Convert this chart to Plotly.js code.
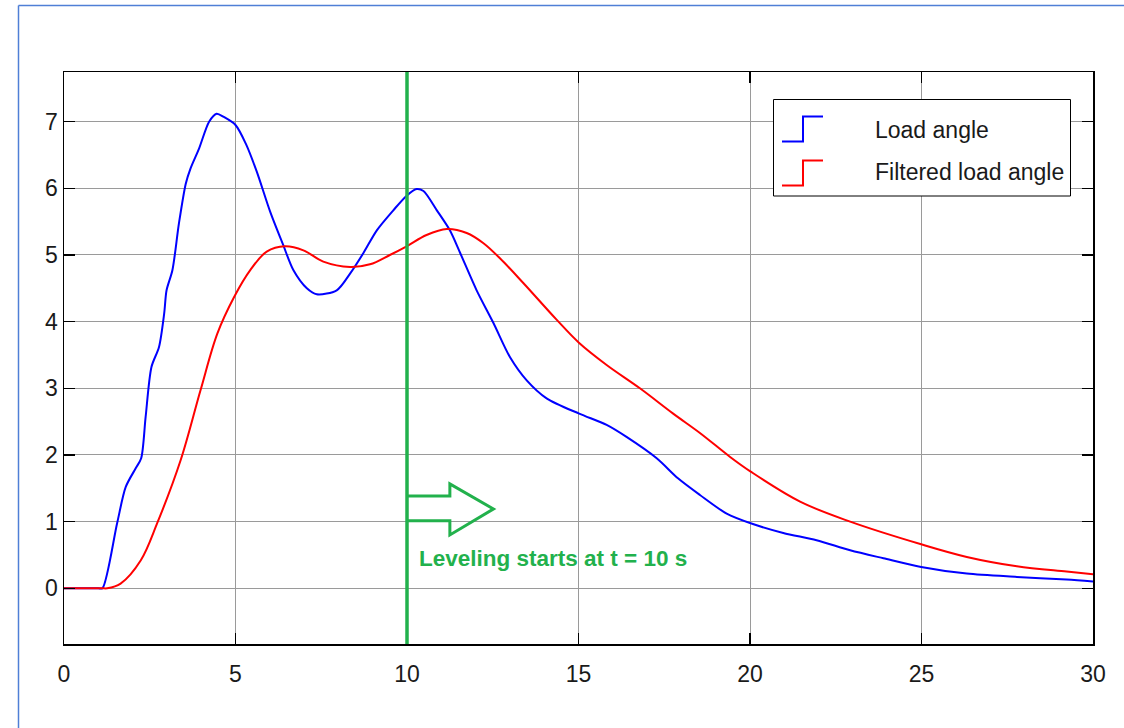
<!DOCTYPE html>
<html>
<head>
<meta charset="utf-8">
<script src="https://cdn.plot.ly/plotly-3.0.1.min.js"></script>
<style>
  html, body { margin: 0; padding: 0; background: #ffffff; }
  #chart { width: 1124px; height: 728px; }
</style>
</head>
<body>
<div id="chart"></div>
<script>
// ---- Data ----
const loadTime = [0, 1.0, 1.12, 1.55, 1.80, 2.09, 2.25, 2.38, 2.55, 2.77, 2.92, 2.99, 3.16, 3.35, 3.55, 3.69, 3.94, 4.23, 4.45, 4.66, 5.0, 5.30, 5.62, 6.01, 6.39, 6.69, 7.08, 7.37, 7.95, 8.34, 8.73, 9.12, 9.60, 9.99, 10.28, 10.48, 10.87, 11.25, 11.55, 12.03, 12.52, 13.0, 13.49, 14.07, 15.02, 15.82, 16.4, 17.28, 17.9, 18.54, 19.32, 20.02, 20.97, 21.94, 22.92, 23.89, 24.99, 26.32, 27.78, 29.23, 30];
const loadAngle = [0, 0, 0, 0.98, 1.52, 1.80, 1.95, 2.57, 3.32, 3.62, 4.12, 4.47, 4.77, 5.47, 6.07, 6.30, 6.60, 7.0, 7.12, 7.07, 6.95, 6.67, 6.25, 5.65, 5.15, 4.77, 4.5, 4.41, 4.47, 4.72, 5.03, 5.37, 5.67, 5.89, 5.99, 5.96, 5.67, 5.37, 5.03, 4.47, 3.98, 3.47, 3.12, 2.85, 2.62, 2.45, 2.27, 1.95, 1.65, 1.40, 1.12, 0.975, 0.83, 0.72, 0.57, 0.45, 0.32, 0.22, 0.17, 0.13, 0.10];

const filtTime = [0, 1.1, 1.26, 1.65, 2.24, 2.72, 3.40, 3.98, 4.47, 4.96, 5.44, 5.91, 6.44, 6.98, 7.56, 8.34, 8.92, 9.50, 9.99, 10.57, 11.16, 11.74, 12.22, 12.71, 13.39, 14.36, 15.02, 15.82, 16.79, 17.76, 18.54, 19.42, 20.02, 21.46, 22.92, 24.99, 26.32, 27.78, 29.23, 30];
const filtAngle = [0, 0, 0, 0.07, 0.42, 0.98, 1.92, 2.97, 3.82, 4.37, 4.78, 5.05, 5.13, 5.07, 4.9, 4.82, 4.86, 5.0, 5.13, 5.3, 5.39, 5.33, 5.18, 4.95, 4.58, 4.03, 3.68, 3.35, 3.0, 2.62, 2.33, 1.97, 1.75, 1.30, 1.0, 0.66, 0.47, 0.33, 0.25, 0.21];

const seriesNames = ["Load angle", "Filtered load angle"];
const xTicks = [0, 5, 10, 15, 20, 25, 30];
const yTicks = [0, 1, 2, 3, 4, 5, 6, 7];
const levelingTime = 10;
const annotationText = "Leveling starts at t = 10 s";

// ---- Styling ----
const FONT = "'Liberation Sans', Arial, sans-serif";
const GREEN = "#22b14c";
const BLUE = "#0000ff";
const RED = "#ff0000";

const traces = [
  { x: loadTime, y: loadAngle, type: "scatter", mode: "lines", name: seriesNames[0],
    line: { color: BLUE, width: 2, shape: "spline", smoothing: 0.8 }, showlegend: false, hoverinfo: "skip" },
  { x: filtTime, y: filtAngle, type: "scatter", mode: "lines", name: seriesNames[1],
    line: { color: RED, width: 2, shape: "spline", smoothing: 1.0 }, showlegend: false, hoverinfo: "skip" }
];

// legend geometry in paper coordinates (plot area: 64..1093 px wide, 72..644 px high)
const W = 1029, H = 572, L0 = 64, T0 = 72;
const px = v => (v - L0) / W;
const py = v => (T0 + H - v) / H;

function stepPath(x0, x1, x2, yLow, yHigh) {
  return `M ${px(x0)} ${py(yLow)} L ${px(x1)} ${py(yLow)} L ${px(x1)} ${py(yHigh)} L ${px(x2)} ${py(yHigh)}`;
}

const shapes = [
  // outer page frame (top and left)
  { type: "line", xref: "paper", yref: "paper", x0: px(18.5), x1: px(1124), y0: py(5.5), y1: py(5.5),
    line: { color: "#4f7fd6", width: 1.5 } },
  { type: "line", xref: "paper", yref: "paper", x0: px(18.5), x1: px(18.5), y0: py(5.5), y1: py(728),
    line: { color: "#4f7fd6", width: 1.5 } },
  // leveling vertical line
  { type: "line", xref: "x", yref: "paper", x0: levelingTime, x1: levelingTime, y0: 0, y1: 1,
    line: { color: GREEN, width: 3.5 }, layer: "above" },
  // hollow arrow
  { type: "path", xref: "x", yref: "y",
    path: `M ${levelingTime} 1.385 L 11.25 1.385 L 11.25 1.565 L 12.52 1.19 L 11.25 0.80 L 11.25 1.014 L ${levelingTime} 1.014`,
    line: { color: GREEN, width: 3 }, layer: "above" },
  // legend box
  { type: "rect", xref: "paper", yref: "paper", x0: px(773.5), x1: px(1070.5), y0: py(99.5), y1: py(196),
    fillcolor: "#ffffff", line: { color: "#000000", width: 1 }, layer: "above" },
  { type: "path", xref: "paper", yref: "paper", path: stepPath(782, 803, 823, 141.5, 116.5),
    line: { color: BLUE, width: 2 }, layer: "above" },
  { type: "path", xref: "paper", yref: "paper", path: stepPath(782, 803, 823, 185.5, 160.5),
    line: { color: RED, width: 2 }, layer: "above" }
];

const annotations = [
  { xref: "paper", yref: "paper", x: px(873), y: py(130), xanchor: "left", yanchor: "middle",
    text: seriesNames[0], showarrow: false, font: { family: FONT, size: 23, color: "#1a1a1a" } },
  { xref: "paper", yref: "paper", x: px(873), y: py(172), xanchor: "left", yanchor: "middle",
    text: seriesNames[1], showarrow: false, font: { family: FONT, size: 23, color: "#1a1a1a" } },
  { xref: "x", yref: "y", x: 10.3, y: 0.44, xanchor: "left", yanchor: "middle",
    text: "<b>" + annotationText + "</b>", showarrow: false, font: { family: FONT, size: 22.5, color: GREEN } }
];

const layout = {
  width: 1124, height: 728,
  margin: { l: 64, r: 31, t: 72, b: 84, pad: 0 },
  paper_bgcolor: "#ffffff", plot_bgcolor: "#ffffff",
  showlegend: false,
  font: { family: FONT, size: 23, color: "#1a1a1a" },
  xaxis: {
    range: [0, 30], tickvals: xTicks, ticktext: xTicks.map(String),
    showgrid: true, gridcolor: "#9a9a9a", gridwidth: 1,
    zeroline: false, showline: true, linecolor: "#000000", linewidth: 1.5, mirror: "ticks",
    ticks: "inside", ticklen: 11, tickcolor: "#000000", tickwidth: 1.5,
    ticklabelstandoff: 9, tickfont: { family: FONT, size: 23, color: "#1a1a1a" }
  },
  yaxis: {
    range: [-0.836, 7.745], tickvals: yTicks, ticktext: yTicks.map(String),
    showgrid: true, gridcolor: "#9a9a9a", gridwidth: 1,
    zeroline: false, showline: true, linecolor: "#000000", linewidth: 1.5, mirror: "ticks",
    ticks: "inside", ticklen: 11, tickcolor: "#000000", tickwidth: 1.5,
    ticklabelstandoff: 0, tickfont: { family: FONT, size: 23, color: "#1a1a1a" }
  },
  shapes: shapes,
  annotations: annotations
};

Plotly.newPlot("chart", traces, layout, { displayModeBar: false, staticPlot: true });
</script>
</body>
</html>
